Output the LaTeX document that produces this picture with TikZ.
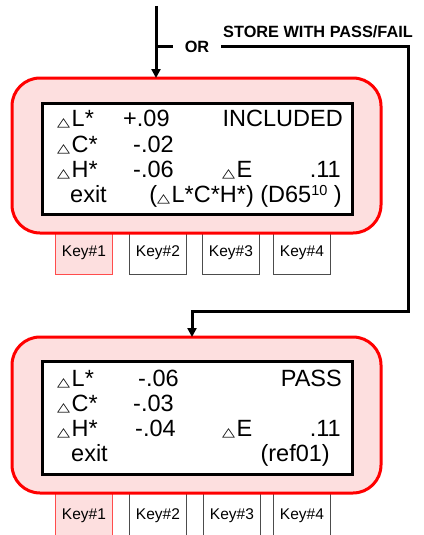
\documentclass[tikz,border=0pt]{standalone}
\usepackage{fontspec}
\usepackage{graphicx}
\setmainfont{Liberation Sans}
\newfontfamily\symfont{DejaVu Sans}
\usetikzlibrary{arrows.meta}
\definecolor{pinkfill}{HTML}{FDDFDF}
\definecolor{redline}{HTML}{FF0000}
\newcommand{\dtri}{{\symfont\fontsize{13pt}{13pt}\selectfont\scalebox{1.3}[0.95]{△}}\hspace{1.5pt}}
\newcommand{\supten}{\raisebox{7pt}{\fontsize{14.5pt}{14.5pt}\selectfont 10}}
\begin{document}
\begin{tikzpicture}[x=1pt,y=-1pt,
  outerbox/.style={draw=redline,fill=pinkfill,line width=3pt,rounded corners=28pt},
  innerbox/.style={draw=black,fill=white,line width=3pt},
  keybox/.style={draw=black!70,fill=white,line width=0.8pt,minimum width=57pt,minimum height=44pt,inner sep=0pt,anchor=north west,font=\fontsize{15.5pt}{16pt}\selectfont},
  keyact/.style={keybox,draw=redline!70,fill=pinkfill},
  disp/.style={inner sep=0pt,font=\fontsize{23.5pt}{24pt}\selectfont},
  lw/.style={disp,anchor=base west},
  le/.style={disp,anchor=base east},
  flow/.style={line width=3pt},
  lbl/.style={inner sep=0pt,font=\bfseries\fontsize{16.3pt}{17pt}\selectfont}
]
\useasboundingbox (0,0) rectangle (423,535);

% ---------- top panel ----------
\node[keyact] (k1a) at (55,230) {Key\#1};
\node[keybox] (k2a) at (129,230) {Key\#2};
\node[keybox] (k3a) at (202,230) {Key\#3};
\node[keybox] (k4a) at (273,230) {Key\#4};
\draw[outerbox] (12,78) rectangle (381,233);
\node[innerbox,minimum width=310pt,minimum height=111pt,anchor=north west,inner sep=0pt] (d1) at (41,102) {};
\node[lw] (a1) at (57,126) {\dtri L*};
\node[lw] (a2) at (123,126) {+.09};
\node[le] (a3) at (343,126) {INCLUDED};
\node[lw] (a4) at (57,152) {\dtri C*};
\node[lw] (a5) at (133,152) {-.02};
\node[lw] (a6) at (57,177) {\dtri H*};
\node[lw] (a7) at (133,177) {-.06};
\node[lw] (a8) at (222,177) {\dtri E};
\node[le] (a9) at (341,177) {.11};
\node[lw] (a10) at (70,202) {exit};
\node[le] (a11) at (342,202) {(\dtri L*C*H*) (D65\supten\ )};

% ---------- bottom panel ----------
\node[keyact,minimum height=50pt] (k1b) at (55,490) {Key\#1};
\node[keybox,minimum height=50pt] (k2b) at (129,490) {Key\#2};
\node[keybox,minimum height=50pt] (k3b) at (203,490) {Key\#3};
\node[keybox,minimum height=50pt] (k4b) at (273,490) {Key\#4};
\draw[outerbox] (12,337) rectangle (381,493);
\node[innerbox,minimum width=310pt,minimum height=113pt,anchor=north west,inner sep=0pt] (d2) at (41,360) {};
\node[lw] (b1) at (57,386) {\dtri L*};
\node[lw] (b2) at (138,386) {-.06};
\node[le] (b3) at (342,386) {PASS};
\node[lw] (b4) at (57,411) {\dtri C*};
\node[lw] (b5) at (133,411) {-.03};
\node[lw] (b6) at (57,436) {\dtri H*};
\node[lw] (b7) at (135,436) {-.04};
\node[lw] (b8) at (222,436) {\dtri E};
\node[le] (b9) at (341,436) {.11};
\node[lw] (b10) at (71,461) {exit};
\node[le] (b11) at (330,461) {(ref01)};

% ---------- connectors ----------
\coordinate (start) at (156,6);
\coordinate (tin) at (156,78);
\coordinate (br) at (173,47);
\node[lbl] (or) at (197,47) {OR};
\node[lbl] (store) at (318,32) {STORE WITH PASS/FAIL};
\coordinate (c1) at (221,47);
\coordinate (c2) at (408,47);
\coordinate (c3) at (408,311);
\coordinate (c4) at (192,311);
\coordinate (bin) at (192,337);
\draw[flow,-{Triangle[length=9pt,width=9pt]}] (start) -- (tin);
\draw[flow] (156,47) -- (br);
\draw[flow,line join=miter,-{Triangle[length=9pt,width=9pt]}] (c1) -- (c2) -- (c3) -- (c4) -- (bin);
\end{tikzpicture}
\end{document}
